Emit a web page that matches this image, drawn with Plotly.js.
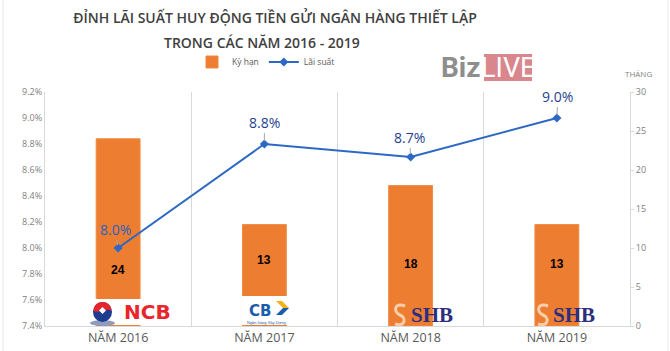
<!DOCTYPE html>
<html>
<head>
<meta charset="utf-8">
<script src="https://cdn.plot.ly/plotly-3.0.1.min.js"></script>
<style>
  html, body { margin: 0; padding: 0; background: #ffffff; }
  #chart { width: 670px; height: 351px; }
</style>
</head>
<body>
<div id="chart"></div>
<script>
// ---- data ----
const categories = ["NĂM 2016", "NĂM 2017", "NĂM 2018", "NĂM 2019"];
const kyHan = [24, 13, 18, 13];            // tháng (right axis)
const laiSuat = [0.080, 0.088, 0.087, 0.090]; // lãi suất (left axis)
const seriesNames = ["Kỳ hạn", "Lãi suất"];
const titleLines = ["ĐỈNH LÃI SUẤT HUY ĐỘNG TIỀN GỬI NGÂN HÀNG THIẾT LẬP", "TRONG CÁC NĂM 2016 - 2019"];

// ---- layout helpers (pixel -> paper) ----
const W = 670, H = 351;
const ML = 45, MR = 40, MT = 92, MB = 25;
const PW = W - ML - MR, PH = H - MT - MB;
const fx = px => (px - ML) / PW;
const fy = py => (H - MB - py) / PH;
const pt = (x, y) => fx(x).toFixed(5) + "," + fy(y).toFixed(5);

const orange = "#ED7D31";
const blue = "#2C68C4";
const gray = "#D9D9D9";

const barTrace = {
  type: "bar",
  name: seriesNames[0],
  x: categories,
  y: kyHan,
  yaxis: "y",
  width: 0.30,
  marker: { color: orange, line: { color: "#F08A40", width: 1 } },
  hoverinfo: "x+y"
};

const lineTrace = {
  type: "scatter",
  mode: "lines+markers",
  name: seriesNames[1],
  x: categories,
  y: laiSuat,
  yaxis: "y2",
  line: { color: blue, width: 2 },
  marker: { symbol: "diamond", size: 7, color: blue }
};

// paper-positioned text helper (pixel coords, centred)
function pText(x, y, text, font, extra) {
  return Object.assign({
    xref: "paper", yref: "paper", x: fx(x), y: fy(y),
    xanchor: "center", yanchor: "middle",
    text: text, showarrow: false, font: font
  }, extra || {});
}

// ---- annotations ----
const annotations = [];
// second title line
annotations.push(pText(262, 42, titleLines[1],
  { family: "Open Sans, sans-serif", size: 14, weight: 600, color: "#404040" }));
// percentage labels with leader lines
const pctOffsets = [[-3, -19], [0, -22], [-1, -20], [1, -22]];
laiSuat.forEach((v, i) => {
  annotations.push({
    x: categories[i], y: v, xref: "x", yref: "y2",
    text: (v * 100).toFixed(1) + "%",
    showarrow: true, arrowhead: 0, arrowwidth: 1, arrowcolor: "#A6A6A6",
    ax: pctOffsets[i][0], ay: pctOffsets[i][1], standoff: 3,
    font: { family: "Open Sans, sans-serif", size: 14, color: i === 0 ? "#2A62BE" : "#1F3F8F" }
  });
});
// bar value labels
const barLabelPx = [270, 260, 264, 264];
kyHan.forEach((v, i) => {
  annotations.push({
    x: categories[i], xref: "x", yref: "paper", y: fy(barLabelPx[i]),
    xanchor: "center", yanchor: "middle",
    text: "<b>" + v + "</b>", showarrow: false,
    font: { family: "Liberation Sans, Arial, sans-serif", size: 12, color: "#000000" }
  });
});
// THÁNG
annotations.push(pText(638, 73, "THÁNG", { family: "Open Sans, sans-serif", size: 8, color: "#7F7F7F" }));
// BizLIVE logo
annotations.push(pText(483, 68, "<b>Biz</b>",
  { family: "Liberation Sans Narrow, Roboto, sans-serif", size: 28, color: "#8E8E8E" }, { xanchor: "right" }));
annotations.push(pText(508, 68, "LIVE",
  { family: "Liberation Sans Narrow, Roboto, sans-serif", size: 27, color: "#FFFFFF" }));
// NCB
annotations.push(pText(147, 312, "<b>NCB</b>", { family: "DejaVu Sans, sans-serif", size: 20, color: "#E8262B" }));
// CB
annotations.push(pText(260, 311, "<b>CB</b>", { family: "DejaVu Sans, sans-serif", size: 15, color: "#1B5DAA" }));
annotations.push(pText(266, 322.5, "Ngân hàng Xây Dựng", { family: "Liberation Sans, sans-serif", size: 4, color: "#1B5DAA" }));
// SHB x2
[432, 574].forEach(cx => {
  annotations.push(pText(cx, 315, "<b>SHB</b>", { family: "Liberation Serif, DejaVu Serif, serif", size: 21, color: "#2D2E7E" }));
});

// ---- shapes (logos / frame) ----
const shapes = [];
// outer frame lines
shapes.push({ type: "line", xref: "paper", yref: "paper", x0: fx(3), x1: fx(3), y0: fy(0), y1: fy(351), line: { color: "#E6E6E6", width: 1 }, layer: "below" });
shapes.push({ type: "line", xref: "paper", yref: "paper", x0: fx(668), x1: fx(668), y0: fy(0), y1: fy(351), line: { color: "#E6E6E6", width: 1 }, layer: "below" });
// BizLIVE pink box
shapes.push({ type: "rect", xref: "paper", yref: "paper", x0: fx(484), x1: fx(532), y0: fy(81), y1: fy(54), fillcolor: "#D9868C", line: { width: 0 }, layer: "below" });
// NCB white background & emblem
shapes.push({ type: "rect", xref: "paper", yref: "paper", x0: fx(86), x1: fx(180), y0: fy(325), y1: fy(299), fillcolor: "#FFFFFF", line: { width: 0 }, layer: "above" });
shapes.push({ type: "circle", xref: "paper", yref: "paper", x0: fx(90), x1: fx(115), y0: fy(326), y1: fy(320), fillcolor: "#8E9CBF", line: { width: 0 }, layer: "above" });
shapes.push({ type: "circle", xref: "paper", yref: "paper", x0: fx(93), x1: fx(112), y0: fy(322), y1: fy(302), fillcolor: "#1D3C8F", line: { width: 0 }, layer: "above" });
shapes.push({ type: "path", xref: "paper", yref: "paper",
  path: "M" + pt(93.5, 311) + " C" + pt(93.5, 299) + " " + pt(111.5, 299) + " " + pt(111.5, 311) + " C" + pt(107, 307) + " " + pt(98, 314) + " " + pt(93.5, 311) + " Z",
  fillcolor: "#E4252B", line: { width: 0 }, layer: "above" });
shapes.push({ type: "path", xref: "paper", yref: "paper",
  path: "M" + pt(102.5, 307) + " L" + pt(106, 310.5) + " L" + pt(102.5, 314) + " L" + pt(99, 310.5) + " Z",
  fillcolor: "#FFFFFF", line: { width: 0 }, layer: "above" });
// CB white background & chevron
shapes.push({ type: "rect", xref: "paper", yref: "paper", x0: fx(242), x1: fx(289), y0: fy(325), y1: fy(296), fillcolor: "#FFFFFF", line: { width: 0 }, layer: "above" });
shapes.push({ type: "path", xref: "paper", yref: "paper",
  path: "M" + pt(276, 301) + " L" + pt(282, 301) + " L" + pt(289, 308) + " L" + pt(283, 308) + " Z",
  fillcolor: "#F5B31B", line: { width: 0 }, layer: "above" });
shapes.push({ type: "path", xref: "paper", yref: "paper",
  path: "M" + pt(283, 308) + " L" + pt(289, 308) + " L" + pt(282, 315) + " L" + pt(276, 315) + " Z",
  fillcolor: "#1B5DAA", line: { width: 0 }, layer: "above" });
shapes.push({ type: "line", xref: "paper", yref: "paper", x0: fx(246), x1: fx(287), y0: fy(325.5), y1: fy(325.5), line: { color: orange, width: 1 }, layer: "above" });
// SHB ribbons
[400, 543].forEach(cx => {
  shapes.push({ type: "path", xref: "paper", yref: "paper",
    path: "M" + pt(cx + 5, 306) + " C" + pt(cx - 6, 302) + " " + pt(cx - 7, 312) + " " + pt(cx, 315) + " C" + pt(cx + 7, 318) + " " + pt(cx + 5, 327) + " " + pt(cx - 5, 324),
    line: { color: "#F9CDAA", width: 3 }, layer: "above" });
});

const layout = {
  width: W, height: H,
  margin: { l: ML, r: MR, t: MT, b: MB },
  paper_bgcolor: "#FFFFFF",
  plot_bgcolor: "#FFFFFF",
  font: { family: "Open Sans, sans-serif", color: "#595959" },
  title: {
    text: titleLines[0],
    xref: "paper", x: fx(275), xanchor: "center",
    yref: "container", y: 1 - 18 / H, yanchor: "middle",
    font: { family: "Open Sans, sans-serif", size: 14, weight: 600, color: "#404040" }
  },
  showlegend: true,
  legend: {
    orientation: "h", x: fx(266), xanchor: "center", y: fy(62), yanchor: "middle",
    font: { size: 8.5, color: "#595959" }, itemwidth: 30, bgcolor: "rgba(0,0,0,0)",
    traceorder: "normal"
  },
  xaxis: {
    type: "category",
    tickson: "boundaries",
    showgrid: true, gridcolor: gray, gridwidth: 1,
    showline: true, linecolor: gray, linewidth: 1,
    ticks: "", zeroline: false,
    tickfont: { family: "Open Sans, sans-serif", size: 12.5, color: "#595959" },
    fixedrange: true
  },
  yaxis: {
    side: "right",
    range: [0, 30], dtick: 5,
    showgrid: false, zeroline: false,
    showline: true, linecolor: gray, linewidth: 1,
    ticks: "outside", ticklen: 3, tickcolor: gray,
    tickfont: { size: 9, color: "#7F7F7F" },
    fixedrange: true
  },
  yaxis2: {
    overlaying: "y", side: "left",
    range: [0.074, 0.092], dtick: 0.002, tickformat: ".1%",
    showgrid: false, zeroline: false,
    showline: true, linecolor: gray, linewidth: 1,
    ticks: "", ticklen: 0,
    tickfont: { size: 9, color: "#7F7F7F" },
    fixedrange: true
  },
  annotations: annotations,
  shapes: shapes
};

Plotly.newPlot("chart", [barTrace, lineTrace], layout, { displayModeBar: false, staticPlot: true });
</script>
</body>
</html>
